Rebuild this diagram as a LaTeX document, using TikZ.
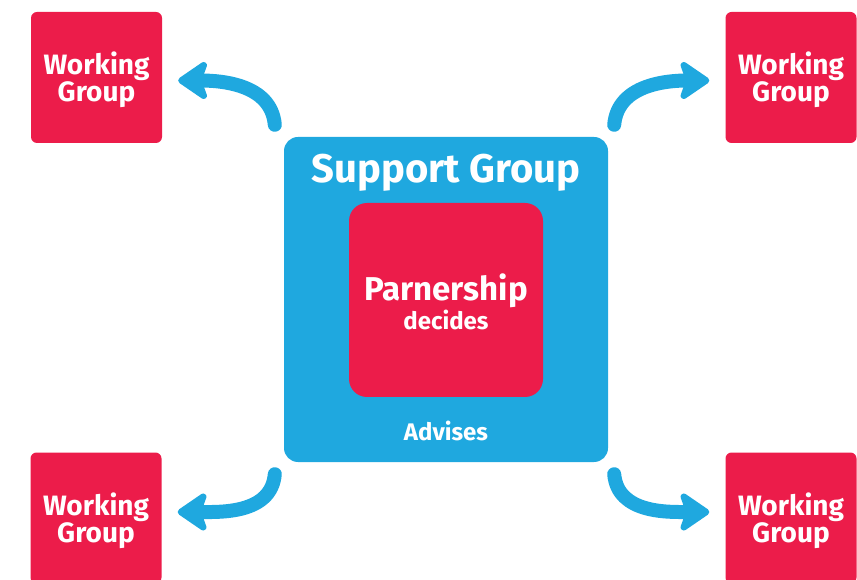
\documentclass[tikz,border=0pt]{standalone}
\usepackage{fontspec}
\setmainfont{Fira Sans}
\usetikzlibrary{arrows.meta}

\definecolor{wgred}{HTML}{EC1C4A}
\definecolor{sgblue}{HTML}{1FA8DF}

\tikzset{
  wgbox/.style={fill=wgred, rounded corners=6pt, minimum width=131pt, minimum height=131pt,
    text=white, align=center, font=\bfseries\fontsize{28}{24}\selectfont, inner sep=0pt},
  flow/.style={draw=sgblue, line width=14pt, line cap=round,
    -{Stealth[round, length=34pt, width=46pt, inset=8pt]}}
}

\begin{document}
\begin{tikzpicture}[x=1pt,y=1pt]
  \useasboundingbox (0,0) rectangle (857,579);
  % support group with the partnership inside
  \node[fill=sgblue, rounded corners=14pt, minimum width=324pt, minimum height=325pt] (sg) at (446,279.5) {};
  \node[fill=wgred, rounded corners=18pt, minimum width=194pt, minimum height=194pt] (pp) at (446,279) {};
  \node[text=white, font=\bfseries\fontsize{40}{40}\selectfont] (sgt) at (446,406) {Support Group};
  \node[text=white, font=\bfseries\fontsize{33}{33}\selectfont] (ppt) at (446,288) {Parnership};
  \node[text=white, font=\bfseries\fontsize{24}{24}\selectfont] (ppd) at (446,259) {decides};
  \node[text=white, font=\bfseries\fontsize{24}{24}\selectfont] (adv) at (446,148) {Advises};

  % working groups
  \node[wgbox] (wgtl) at (96.5,501.5) {\rule{0pt}{28pt}Working\\Group};
  \node[wgbox] (wgtr) at (791,501.5) {\rule{0pt}{28pt}Working\\Group};
  \node[wgbox] (wgbl) at (96,61) {\rule{0pt}{28pt}Working\\Group};
  \node[wgbox] (wgbr) at (791,61) {\rule{0pt}{28pt}Working\\Group};

  % arrows
  \draw[flow] ([shift={(-9,12)}]sg.north west) to[out=95,in=0] ([shift={(16,-3)}]wgtl.east);
  \draw[flow] ([shift={(6,12)}]sg.north east) to[out=85,in=180] ([shift={(-16,-3)}]wgtr.west);
  \draw[flow] ([shift={(-9,-12)}]sg.south west) to[out=-95,in=0] ([shift={(16,6)}]wgbl.east);
  \draw[flow] ([shift={(6,-12)}]sg.south east) to[out=-85,in=180] ([shift={(-16,6)}]wgbr.west);
\end{tikzpicture}
\end{document}
